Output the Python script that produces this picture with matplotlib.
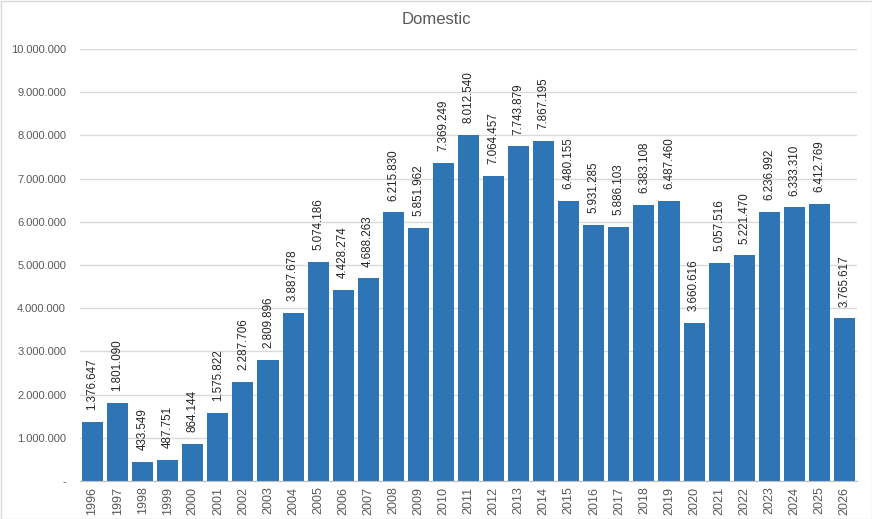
import numpy as np
import matplotlib.pyplot as plt
from matplotlib.patches import Rectangle

years = [str(y) for y in range(1996, 2027)]
values = [1376647, 1801090, 433549, 487751, 864144, 1575822, 2287706, 2809896,
          3887678, 5074186, 4428274, 4688263, 6215830, 5851962, 7369249, 8012540,
          7064457, 7743879, 7867195, 6480155, 5931285, 5886103, 6383108, 6487460,
          3660616, 5057516, 5221470, 6236992, 6333310, 6412769, 3765617]
yticks = list(range(0, 10000001, 1000000))


def fmt(v):
    if v == 0:
        return "-"
    return f"{v:,}".replace(",", ".")


plt.rcParams['font.family'] = ['Liberation Sans', 'DejaVu Sans']

fig = plt.figure(figsize=(8.72, 5.19), dpi=100)
ax = fig.add_axes([80 / 872, 1 - 481 / 519, 777 / 872, 432 / 519])

x = np.arange(len(years))
bars = ax.bar(x, values, width=0.84, color="#2E75B6", zorder=3)

for xi, v in zip(x, values):
    ax.annotate(fmt(v), (xi, v), xytext=(0, 8.5), textcoords="offset points",
                rotation=90, ha="center", va="bottom", fontsize=8.4,
                color="#262626", zorder=4)

ax.set_xlim(-0.5, len(years) - 0.5)
ax.set_ylim(0, 10000000)
ax.set_yticks(yticks)
ax.set_yticklabels([fmt(v) for v in yticks])
ax.set_xticks(x)
ax.set_xticklabels(years, rotation=90)
ax.tick_params(axis="y", length=0, pad=10, labelsize=8, labelcolor="#595959")
ax.tick_params(axis="x", length=0, pad=4, labelsize=9, labelcolor="#595959")
ax.grid(axis="y", color="#d9d9d9", linewidth=1, zorder=0)
for s in ["top", "right", "left"]:
    ax.spines[s].set_visible(False)
ax.spines["bottom"].set_color("#bfbfbf")
ax.spines["bottom"].set_zorder(5)

fig.text(0.5, 1 - 20 / 519, "Domestic", ha="center", va="center",
         fontsize=12, color="#595959")

fig.patches.append(Rectangle((0.5 / 872, 0.5 / 519), 1 - 1 / 872, 1 - 1 / 519,
                             transform=fig.transFigure, fill=False,
                             edgecolor="#d9d9d9", linewidth=1))

fig.savefig("out.png", dpi=100)
